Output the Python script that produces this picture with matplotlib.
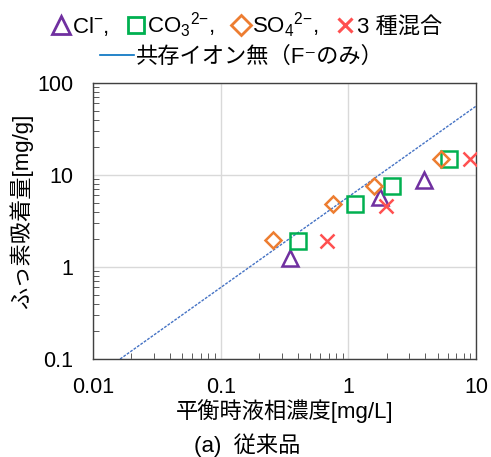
import matplotlib
matplotlib.use("Agg")
import matplotlib.pyplot as plt
from matplotlib.lines import Line2D

plt.rcParams["font.family"] = ["Liberation Sans", "Noto Sans CJK JP", "DejaVu Sans"]
plt.rcParams["mathtext.fontset"] = "custom"
plt.rcParams["mathtext.rm"] = "Liberation Sans"
plt.rcParams["mathtext.it"] = "Liberation Sans"
plt.rcParams["mathtext.bf"] = "Liberation Sans:bold"
plt.rcParams["font.size"] = 15.5

# data
cl_x = [0.35, 1.77, 3.93]
cl_y = [1.25, 5.7, 8.8]
co3_x = [0.40, 1.13, 2.18, 6.17]
co3_y = [1.92, 4.8, 7.6, 14.8]
so4_x = [0.257, 0.76, 1.6, 5.27]
so4_y = [1.96, 4.8, 7.6, 14.8]
mix_x = [0.68, 1.97, 8.95]
mix_y = [1.92, 4.6, 14.8]
fline_x = [0.0163, 10.0]
fline_y = [0.1, 56.0]

c_cl = "#7030A0"
c_co3 = "#00B050"
c_so4 = "#ED7D31"
c_mix = "#FF5050"
c_line = "#4472C4"

fig = plt.figure(figsize=(4.91, 4.57), dpi=100)
ax = fig.add_axes([0.1894, 0.2144, 0.7801, 0.604])

ax.plot(fline_x, fline_y, linestyle=(0, (2, 1)), color=c_line, linewidth=1.0, zorder=2)
ax.plot(cl_x, cl_y, linestyle="none", marker="^", markersize=11.5, markerfacecolor="none",
        markeredgecolor=c_cl, markeredgewidth=1.8, zorder=3)
ax.plot(co3_x, co3_y, linestyle="none", marker="s", markersize=11, markerfacecolor="none",
        markeredgecolor=c_co3, markeredgewidth=1.8, zorder=3)
ax.plot(so4_x, so4_y, linestyle="none", marker="D", markersize=8.5, markerfacecolor="none",
        markeredgecolor=c_so4, markeredgewidth=1.8, zorder=3)
ax.plot(mix_x, mix_y, linestyle="none", marker="x", markersize=10, color=c_mix,
        markeredgewidth=1.8, zorder=3)

ax.set_xscale("log")
ax.set_yscale("log")
ax.set_xlim(0.01, 10)
ax.set_ylim(0.1, 100)
ax.set_xticks([0.01, 0.1, 1, 10])
ax.set_xticklabels(["0.01", "0.1", "1", "10"])
ax.set_yticks([0.1, 1, 10, 100])
ax.set_yticklabels(["0.1", "1", "10", "100"])
ax.grid(True, which="major", color="#d9d9d9", linewidth=1.0, zorder=0)
ax.set_axisbelow(True)
ax.tick_params(which="both", direction="in", top=False, right=False, colors="#404040",
               labelcolor="black", labelsize=15.5)
ax.tick_params(which="major", length=0)
ax.tick_params(axis="x", which="major", pad=13)
ax.tick_params(axis="y", which="major", pad=14)
ax.tick_params(which="minor", length=4)
for s in ax.spines.values():
    s.set_color("#404040")
    s.set_linewidth(1.0)

ax.set_xlabel("平衡時液相濃度[mg/L]", fontsize=16)
ax.set_ylabel("ふっ素吸着量[mg/g]", fontsize=16)
ax.xaxis.set_label_coords(0.5, -0.145)
ax.yaxis.set_label_coords(-0.157, 0.534)
fig.text(0.503, 0.026, "(a)  従来品", ha="center", va="center", fontsize=16)

h1 = [
    Line2D([], [], linestyle="none", marker="^", markersize=13, markerfacecolor="none",
           markeredgecolor=c_cl, markeredgewidth=2.0),
    Line2D([], [], linestyle="none", marker="s", markersize=12, markerfacecolor="none",
           markeredgecolor=c_co3, markeredgewidth=2.0),
    Line2D([], [], linestyle="none", marker="D", markersize=10, markerfacecolor="none",
           markeredgecolor=c_so4, markeredgewidth=2.0),
    Line2D([], [], linestyle="none", marker="x", markersize=10, color=c_mix, markeredgewidth=2.2),
]
l1 = ["Cl$^{-}$,", "CO$_{3}$$^{2{-}}$,", "SO$_{4}$$^{2{-}}$,", "3 種混合"]
leg1 = fig.legend(h1, l1, loc="center", bbox_to_anchor=(0.503, 0.945), ncol=4, frameon=False,
                  handlelength=0.8, handletextpad=0.1, columnspacing=0.8, fontsize=16,
                  borderpad=0)
h2 = [Line2D([], [], color="#0070C0", linewidth=1.2)]
leg2 = fig.legend(h2, ["共存イオン無（F⁻のみ）"], loc="center", bbox_to_anchor=(0.493, 0.875),
                  frameon=False, handlelength=1.5, handletextpad=0.1, fontsize=16, borderpad=0)

fig.savefig("out.png", dpi=100)
